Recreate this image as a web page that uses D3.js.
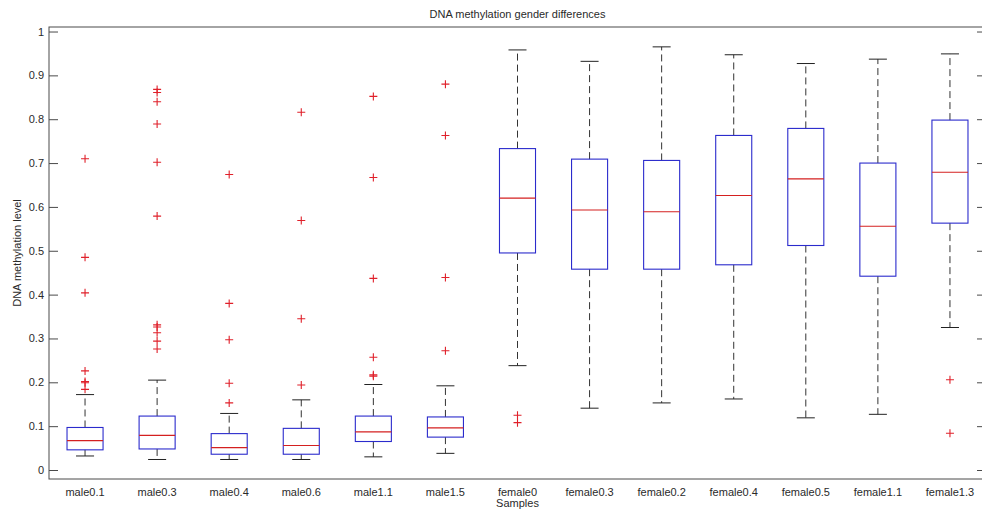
<!DOCTYPE html>
<html>
<head>
<meta charset="utf-8">
<script src="https://cdn.jsdelivr.net/npm/d3@7"></script>
<style>
  html, body { margin: 0; padding: 0; background: #fff; }
  svg { display: block; font-family: "Liberation Sans", Arial, sans-serif; }
</style>
</head>
<body>
<svg id="chart" width="982" height="509"></svg>
<script>
// Sample groups and their box-plot statistics
const categories = ["male0.1", "male0.3", "male0.4", "male0.6", "male1.1", "male1.5",
  "female0", "female0.3", "female0.2", "female0.4", "female0.5", "female1.1", "female1.3"];
const lowerWhisker = [0.032, 0.024, 0.024, 0.024, 0.030, 0.038, 0.238, 0.141, 0.153, 0.162, 0.119, 0.127, 0.325];
const q1 =           [0.046, 0.048, 0.036, 0.036, 0.065, 0.075, 0.495, 0.458, 0.458, 0.468, 0.512, 0.442, 0.563];
const medians =      [0.067, 0.079, 0.051, 0.056, 0.087, 0.096, 0.620, 0.593, 0.589, 0.626, 0.664, 0.556, 0.679];
const q3 =           [0.097, 0.123, 0.083, 0.095, 0.123, 0.121, 0.733, 0.709, 0.706, 0.763, 0.779, 0.700, 0.798];
const upperWhisker = [0.172, 0.205, 0.129, 0.160, 0.195, 0.192, 0.958, 0.932, 0.965, 0.947, 0.927, 0.937, 0.949];
const outliers = [
  [0.710, 0.485, 0.404, 0.226, 0.202, 0.199, 0.184],
  [0.868, 0.861, 0.840, 0.789, 0.702, 0.579, 0.331, 0.326, 0.313, 0.294, 0.276],
  [0.674, 0.380, 0.297, 0.198, 0.153],
  [0.816, 0.569, 0.345, 0.194],
  [0.852, 0.667, 0.437, 0.257, 0.217, 0.214],
  [0.880, 0.763, 0.439, 0.272],
  [0.125, 0.108],
  [], [], [], [], [],
  [0.206, 0.084]
];
const yTicks = [0, 0.1, 0.2, 0.3, 0.4, 0.5, 0.6, 0.7, 0.8, 0.9, 1];

const svg = d3.select("#chart");
const plotLeft = 49, plotRight = 986, plotTop = 27, plotBottom = 479;

const x = d3.scaleBand().domain(categories).range([plotLeft, plotRight]).padding(0);
const y = d3.scaleLinear().domain([-0.0205, 1.0103]).range([plotBottom, plotTop]);
const bw = x.bandwidth();
const cx = c => x(c) + bw / 2;

const axisColor = "#4a4a4a";
const textColor = "#2a2a2a";

// Plot frame
svg.append("rect")
  .attr("x", plotLeft).attr("y", plotTop)
  .attr("width", plotRight - plotLeft).attr("height", plotBottom - plotTop)
  .attr("fill", "none").attr("stroke", axisColor).attr("stroke-width", 1);

// Left axis with labels, inward ticks
const gLeft = svg.append("g").attr("transform", `translate(${plotLeft},0)`)
  .call(d3.axisLeft(y).tickValues(yTicks).tickSize(-9).tickPadding(5)
    .tickFormat(d => d === 0 ? "0" : d === 1 ? "1" : d3.format(".1f")(d)));
gLeft.select(".domain").remove();
gLeft.selectAll(".tick line").attr("stroke", axisColor);
gLeft.selectAll(".tick text").attr("fill", textColor).attr("font-size", 11)
  .attr("font-family", "'Liberation Sans', Arial, sans-serif");

// Right axis, ticks only
const gRight = svg.append("g").attr("transform", `translate(${plotRight},0)`)
  .call(d3.axisRight(y).tickValues(yTicks).tickSize(-9).tickFormat(""));
gRight.select(".domain").remove();
gRight.selectAll(".tick line").attr("stroke", axisColor);

// Category labels
svg.append("g").selectAll("text").data(categories).join("text")
  .attr("x", d => cx(d)).attr("y", 496)
  .attr("text-anchor", "middle").attr("font-size", 11).attr("fill", textColor)
  .text(d => d);

// Box plots
const data = categories.map((c, i) => ({
  c, lo: lowerWhisker[i], q1: q1[i], med: medians[i], q3: q3[i], hi: upperWhisker[i], out: outliers[i]
}));
const boxW = bw * 0.5, capW = bw * 0.25;
const g = svg.append("g");

const groups = g.selectAll("g.box").data(data).join("g").attr("class", "box");

// Whiskers (dashed)
groups.append("line")
  .attr("x1", d => cx(d.c)).attr("x2", d => cx(d.c))
  .attr("y1", d => y(d.q3)).attr("y2", d => y(d.hi))
  .attr("stroke", "#333").attr("stroke-dasharray", "7,4");
groups.append("line")
  .attr("x1", d => cx(d.c)).attr("x2", d => cx(d.c))
  .attr("y1", d => y(d.q1)).attr("y2", d => y(d.lo))
  .attr("stroke", "#333").attr("stroke-dasharray", "7,4");
// Whisker caps
groups.append("line")
  .attr("x1", d => cx(d.c) - capW / 2).attr("x2", d => cx(d.c) + capW / 2)
  .attr("y1", d => y(d.hi)).attr("y2", d => y(d.hi))
  .attr("stroke", "#222");
groups.append("line")
  .attr("x1", d => cx(d.c) - capW / 2).attr("x2", d => cx(d.c) + capW / 2)
  .attr("y1", d => y(d.lo)).attr("y2", d => y(d.lo))
  .attr("stroke", "#222");
// Boxes
groups.append("rect")
  .attr("x", d => cx(d.c) - boxW / 2).attr("width", boxW)
  .attr("y", d => y(d.q3)).attr("height", d => y(d.q1) - y(d.q3))
  .attr("fill", "none").attr("stroke", "#2b2bcc").attr("stroke-width", 1.1);
// Medians
groups.append("line")
  .attr("x1", d => cx(d.c) - boxW / 2).attr("x2", d => cx(d.c) + boxW / 2)
  .attr("y1", d => y(d.med)).attr("y2", d => y(d.med))
  .attr("stroke", "#d42020").attr("stroke-width", 1.1);
// Outliers as red plus markers
groups.each(function (d) {
  d3.select(this).selectAll("path.out").data(d.out).join("path")
    .attr("class", "out")
    .attr("d", v => {
      const px = cx(d.c), py = y(v), r = 4;
      return `M${px - r},${py}H${px + r}M${px},${py - r}V${py + r}`;
    })
    .attr("stroke", "#e0202a").attr("stroke-width", 1.1).attr("fill", "none");
});

// Title and axis labels
svg.append("text").attr("x", (plotLeft + plotRight) / 2).attr("y", 18)
  .attr("text-anchor", "middle").attr("font-size", 11).attr("fill", textColor)
  .text("DNA methylation gender differences");
svg.append("text").attr("x", (plotLeft + plotRight) / 2).attr("y", 507)
  .attr("text-anchor", "middle").attr("font-size", 11).attr("fill", textColor)
  .text("Samples");
svg.append("text")
  .attr("transform", `translate(21,${(plotTop + plotBottom) / 2}) rotate(-90)`)
  .attr("text-anchor", "middle").attr("font-size", 11).attr("fill", textColor)
  .text("DNA methylation level");
</script>
</body>
</html>
